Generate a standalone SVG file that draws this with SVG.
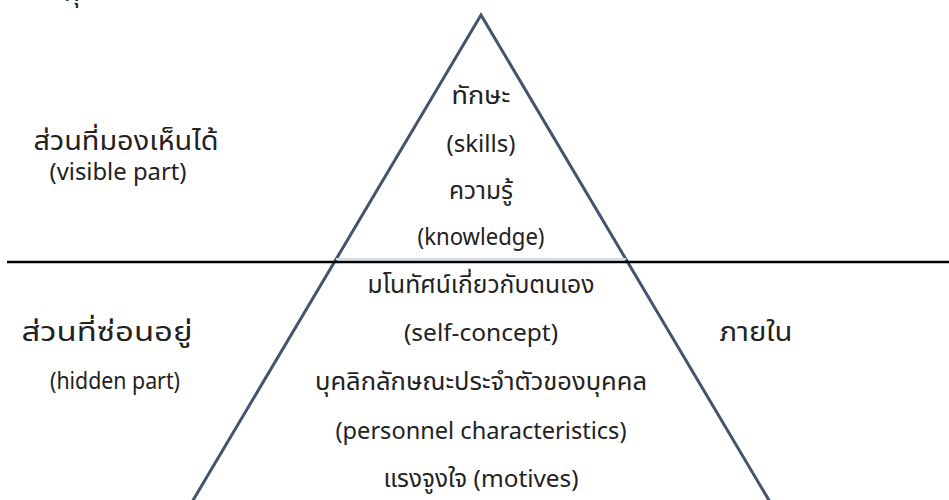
<svg xmlns="http://www.w3.org/2000/svg" width="949" height="500" viewBox="0 0 949 500">
<style>
text{font-family:"Noto Sans","Noto Sans Thai","Leelawadee UI",Tahoma,sans-serif;fill:#222;font-size:23px;text-anchor:middle}
.th{font-size:24px}
.h{font-size:26px}
.tri{fill:none;stroke:#44546a;stroke-width:3}
</style>
<rect width="949" height="500" fill="#fff"/>
<text x="72" y="1" class="h">คุ</text>
<g id="pyramid">
<polygon class="tri" points="481,15 192,502 770,502"/>
<line x1="336" y1="259" x2="626" y2="259" stroke="#d6dce5" stroke-width="2"/>
</g>
<g id="connectors">
<line x1="7" y1="262" x2="949" y2="262" stroke="#000" stroke-width="2.5"/>
</g>
<g id="visible">
<text x="126" y="150" class="h" textLength="185" lengthAdjust="spacingAndGlyphs">ส่วนที่มองเห็นได้</text>
<text x="118" y="180" textLength="137" lengthAdjust="spacingAndGlyphs">(visible part)</text>
</g>
<g id="hidden">
<text x="107" y="341" class="h" textLength="171" lengthAdjust="spacingAndGlyphs">ส่วนที่ซ่อนอยู่</text>
<text x="115" y="389" textLength="130" lengthAdjust="spacingAndGlyphs">(hidden part)</text>
</g>
<g id="inner">
<text x="756" y="341" class="h" textLength="73" lengthAdjust="spacingAndGlyphs">ภายใน</text>
</g>
<g id="top">
<text x="481" y="104" class="th" textLength="59" lengthAdjust="spacingAndGlyphs">ทักษะ</text>
<text x="481" y="152" textLength="69" lengthAdjust="spacingAndGlyphs">(skills)</text>
<text x="481" y="199" class="th" textLength="64" lengthAdjust="spacingAndGlyphs">ความรู้</text>
<text x="481" y="245" textLength="127" lengthAdjust="spacingAndGlyphs">(knowledge)</text>
</g>
<g id="bottom">
<text x="481" y="293" class="th" textLength="227" lengthAdjust="spacingAndGlyphs">มโนทัศน์เกี่ยวกับตนเอง</text>
<text x="481" y="341" textLength="154" lengthAdjust="spacingAndGlyphs">(self-concept)</text>
<text x="481" y="390" class="th" textLength="332" lengthAdjust="spacingAndGlyphs">บุคลิกลักษณะประจำตัวของบุคคล</text>
<text x="481" y="439" textLength="291" lengthAdjust="spacingAndGlyphs">(personnel characteristics)</text>
<text x="481" y="487" class="th" textLength="195" lengthAdjust="spacingAndGlyphs">แรงจูงใจ (motives)</text>
</g>
</svg>
